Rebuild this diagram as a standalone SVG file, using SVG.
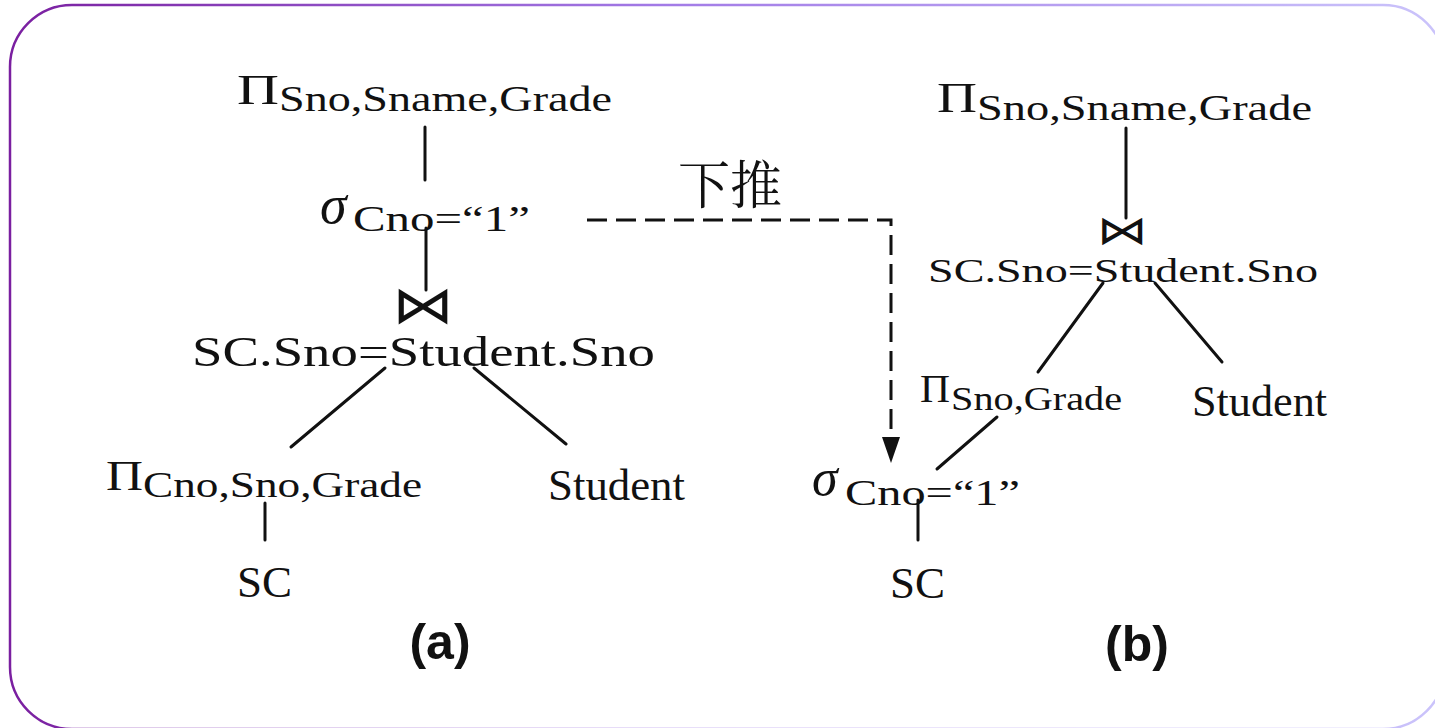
<svg xmlns="http://www.w3.org/2000/svg" width="1435" height="728" viewBox="0 0 1435 728">
  <defs>
    <linearGradient id="frameGrad" x1="0" y1="0" x2="1" y2="0">
      <stop offset="0" stop-color="#7a1fa0"/>
      <stop offset="0.45" stop-color="#a27ae6"/>
      <stop offset="1" stop-color="#cbc4fb"/>
    </linearGradient>
    <marker id="arrowHead" markerUnits="userSpaceOnUse" markerWidth="28" markerHeight="20" refX="0" refY="9" orient="auto">
      <path d="M0,0 L26,9 L0,18 z" fill="#111"/>
    </marker>
    <style>
      .cm { font-family: "Liberation Serif", "DejaVu Serif", serif; fill: #111; }
      .tm { font-family: "Liberation Serif", "Times New Roman", serif; fill: #111; }
      .sig { font-family: "Liberation Serif", "DejaVu Serif", serif; font-style: italic; fill: #111; }
      .bow { font-family: "DejaVu Serif", "DejaVu Sans", serif; fill: #111; }
      .cap { font-family: "Liberation Sans", Arial, sans-serif; font-weight: bold; fill: #111; text-anchor: middle; }
      .cjk { font-family: "Noto Serif CJK SC", "Noto Sans CJK SC", sans-serif; fill: #111; }
      .edge { stroke: #111; stroke-width: 3; fill: none; stroke-linecap: round; }
      .push { stroke: #111; stroke-width: 3; fill: none; stroke-dasharray: 20 9; }
    </style>
  </defs>

  <!-- outer frame -->
  <rect x="10" y="5" width="1435" height="724" rx="62" ry="62" fill="#fff" stroke="url(#frameGrad)" stroke-width="2.5"/>

  <!-- edges of both trees and the push-down arrow -->
  <g id="connectors">
    <line class="edge" x1="425" y1="127" x2="425" y2="180"/>
    <line class="edge" x1="426" y1="228" x2="426" y2="290"/>
    <line class="edge" x1="385" y1="368" x2="291" y2="447"/>
    <line class="edge" x1="474" y1="368" x2="566" y2="444"/>
    <line class="edge" x1="265" y1="503" x2="265" y2="540"/>

    <line class="edge" x1="1126" y1="128" x2="1126" y2="218"/>
    <line class="edge" x1="1103" y1="283" x2="1038" y2="372"/>
    <line class="edge" x1="1155" y1="283" x2="1222" y2="362"/>
    <line class="edge" x1="997" y1="417" x2="937" y2="469"/>
    <line class="edge" x1="918" y1="500" x2="918" y2="540"/>

    <path class="push" d="M587,220 H891 V437" marker-end="url(#arrowHead)"/>
  </g>

  <!-- tree (a) -->
  <g id="a-proj-top">
    <text class="cm" x="237" y="104" font-size="43" textLength="42" lengthAdjust="spacingAndGlyphs">Π</text>
    <text class="cm" x="279" y="111" font-size="35" textLength="333" lengthAdjust="spacingAndGlyphs">Sno,Sname,Grade</text>
  </g>
  <g id="a-select">
    <text class="sig" x="320" y="223" font-size="54">σ</text>
    <text class="cm" x="353" y="231" font-size="35" textLength="177" lengthAdjust="spacingAndGlyphs">Cno=“1”</text>
  </g>
  <g id="a-join">
    <text class="bow" x="392" y="323" font-size="52" textLength="62" lengthAdjust="spacingAndGlyphs">⋈</text>
    <text class="cm" x="192" y="366" font-size="43" textLength="463" lengthAdjust="spacingAndGlyphs">SC.Sno=Student.Sno</text>
  </g>
  <g id="a-proj-sc">
    <text class="cm" x="106" y="490" font-size="43" textLength="37" lengthAdjust="spacingAndGlyphs">Π</text>
    <text class="cm" x="143" y="497" font-size="35" textLength="279" lengthAdjust="spacingAndGlyphs">Cno,Sno,Grade</text>
  </g>
  <g id="a-student">
    <text class="tm" x="548" y="500" font-size="45" textLength="137" lengthAdjust="spacingAndGlyphs">Student</text>
  </g>
  <g id="a-sc">
    <text class="tm" x="237" y="597" font-size="45">SC</text>
  </g>
  <g id="a-caption">
    <text class="cap" x="440" y="659" font-size="50">(a)</text>
  </g>

  <!-- push-down label -->
  <g id="push-label">
    <text class="cjk" x="678" y="204" font-size="52">下推</text>
  </g>

  <!-- tree (b) -->
  <g id="b-proj-top">
    <text class="cm" x="937" y="112" font-size="43" textLength="40" lengthAdjust="spacingAndGlyphs">Π</text>
    <text class="cm" x="977" y="120" font-size="35" textLength="335" lengthAdjust="spacingAndGlyphs">Sno,Sname,Grade</text>
  </g>
  <g id="b-join">
    <text class="bow" x="1097" y="244" font-size="40" textLength="51" lengthAdjust="spacingAndGlyphs">⋈</text>
    <text class="cm" x="928" y="282" font-size="34" textLength="390" lengthAdjust="spacingAndGlyphs">SC.Sno=Student.Sno</text>
  </g>
  <g id="b-proj-sc">
    <text class="cm" x="920" y="402" font-size="40" textLength="30" lengthAdjust="spacingAndGlyphs">Π</text>
    <text class="cm" x="951" y="410" font-size="33" textLength="171" lengthAdjust="spacingAndGlyphs">Sno,Grade</text>
  </g>
  <g id="b-student">
    <text class="tm" x="1192" y="416" font-size="45" textLength="135" lengthAdjust="spacingAndGlyphs">Student</text>
  </g>
  <g id="b-select">
    <text class="sig" x="812" y="495" font-size="52">σ</text>
    <text class="cm" x="845" y="505" font-size="35" textLength="175" lengthAdjust="spacingAndGlyphs">Cno=“1”</text>
  </g>
  <g id="b-sc">
    <text class="tm" x="890" y="598" font-size="45">SC</text>
  </g>
  <g id="b-caption">
    <text class="cap" x="1137" y="661" font-size="50">(b)</text>
  </g>
</svg>
